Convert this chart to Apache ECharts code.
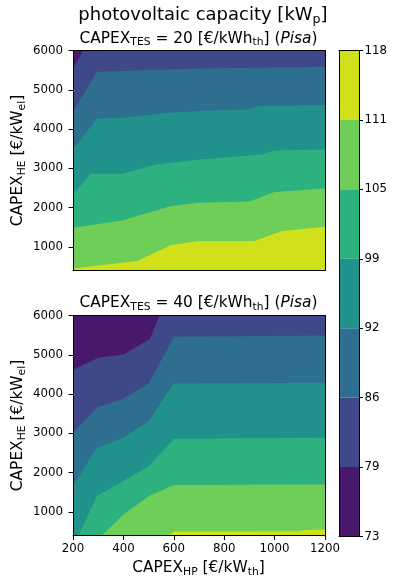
<!DOCTYPE html>
<html>
<head>
<meta charset="utf-8">
<script src="https://cdn.jsdelivr.net/npm/echarts@6/dist/echarts.min.js"></script>
<style>
  html, body { margin: 0; padding: 0; background: #fff; }
  #chart { width: 395px; height: 582px; }
</style>
</head>
<body>
<div id="chart"></div>
<script>
const FONT = 'DejaVu Sans';

// Axis ranges and ticks
const xRange = [200, 1200];          // CAPEX_HP [€/kW_th]
const yRange = [400, 6000];          // CAPEX_HE [€/kW_el]
const xTicks = [200, 400, 600, 800, 1000, 1200];
const yTicks = [1000, 2000, 3000, 4000, 5000, 6000];

// Colour levels of the PV capacity [kWp]
const levelLabels = ['73', '79', '86', '92', '99', '105', '111', '118'];
const bandColors = ['#48196b', '#3f4889', '#2e6e8e', '#21918c', '#2db17e', '#6ece58', '#d0e11c'];

// Iso-lines (CAPEX_HP, CAPEX_HE) between bands, CAPEX_TES = 20 €/kWh_th
const tes20_79  = [[200, 5540], [240, 6000]];
const tes20_86  = [[200, 4440], [295, 5458], [700, 5540], [1200, 5585]];
const tes20_92  = [[200, 3480], [295, 4262], [400, 4290], [560, 4400], [700, 4457], [900, 4500], [930, 4585], [1200, 4610]];
const tes20_99  = [[200, 2335], [270, 2862], [395, 2862], [530, 3100], [700, 3225], [950, 3350], [1000, 3455], [1200, 3480]];
const tes20_105 = [[200, 1488], [395, 1675], [590, 2040], [700, 2125], [900, 2155], [1000, 2400], [1200, 2490]];
const tes20_111 = [[200, 450], [455, 640], [590, 1050], [700, 1150], [920, 1150], [1030, 1405], [1200, 1513]];

// Iso-lines between bands, CAPEX_TES = 40 €/kWh_th
const tes40_79  = [[200, 4610], [300, 4925], [400, 5010], [505, 5405], [543, 6000]];
const tes40_86  = [[200, 3015], [300, 3675], [400, 3880], [500, 4270], [600, 5460], [1200, 5490]];
const tes40_92  = [[200, 1658], [295, 2635], [400, 2890], [500, 3310], [600, 4270], [1200, 4290]];
const tes40_99  = [[222, 400], [295, 1405], [400, 1785], [500, 2165], [600, 2862], [1200, 2887]];
const tes40_105 = [[315, 400], [400, 935], [465, 1235], [505, 1420], [600, 1685], [1200, 1700]];
const tes40_111 = [[580, 400], [600, 495], [1100, 510], [1120, 540], [1200, 555]];

const tes20Lines = [tes20_79, tes20_86, tes20_92, tes20_99, tes20_105, tes20_111];
const tes40Lines = [tes40_79, tes40_86, tes40_92, tes40_99, tes40_105, tes40_111];

// Region of the plane lying below/right of an iso-line (higher PV capacity)
function regionBelow(line) {
  const pts = line.slice();
  const last = pts[pts.length - 1];
  if (last[1] >= yRange[1] && last[0] < xRange[1]) pts.push([xRange[1], yRange[1]]);
  pts.push([xRange[1], yRange[0]]);
  pts.push([xRange[0], yRange[0]]);
  return pts;
}

function contourSeries(lines, axisIdx) {
  return {
    type: 'custom',
    coordinateSystem: 'cartesian2d',
    xAxisIndex: axisIdx,
    yAxisIndex: axisIdx,
    clip: true,
    silent: true,
    data: bandColors.map((c, i) => [xRange[0], yRange[0], i]),
    renderItem: function (params, api) {
      const i = params.dataIndex;
      const pts = i === 0
        ? [[xRange[0], yRange[0]], [xRange[0], yRange[1]], [xRange[1], yRange[1]], [xRange[1], yRange[0]]]
        : regionBelow(lines[i - 1]);
      return {
        type: 'polygon',
        shape: { points: pts.map(p => api.coord(p)) },
        style: { fill: bandColors[i], stroke: null }
      };
    }
  };
}

const tickLabelStyle = { fontFamily: FONT, fontSize: 11.8, color: '#000', formatter: v => String(v) };
const lineStyle = { color: '#000', width: 1 };

function frameAxis(gridIndex, position, extra) {
  return Object.assign({
    gridIndex, position, type: 'value', z: 10,
    axisLine: { show: true, onZero: false, lineStyle },
    axisTick: { show: false }, axisLabel: { show: false }, splitLine: { show: false }
  }, extra || {});
}

function hpAxis(gridIndex, withLabels) {
  return frameAxis(gridIndex, 'bottom', {
    min: xRange[0], max: xRange[1], interval: 200,
    axisTick: { show: withLabels, length: 4.5, lineStyle, customValues: xTicks },
    axisLabel: Object.assign({ show: withLabels, margin: 7, customValues: xTicks }, tickLabelStyle)
  });
}

function heAxis(gridIndex) {
  return frameAxis(gridIndex, 'left', {
    min: yRange[0], max: yRange[1],
    axisTick: { show: true, length: 4.5, lineStyle, customValues: yTicks },
    axisLabel: Object.assign({ show: true, margin: 10, customValues: yTicks }, tickLabelStyle)
  });
}

function richText(size) {
  return {
    m: { fontFamily: FONT, fontSize: size, color: '#000', lineHeight: size * 1.2 },
    i: { fontFamily: FONT, fontSize: size, color: '#000', fontStyle: 'italic', lineHeight: size * 1.2 },
    s: { fontFamily: FONT, fontSize: size * 0.7, color: '#000', lineHeight: size * 0.55, verticalAlign: 'bottom' }
  };
}

function label(text, x, y, size, rotation) {
  return {
    type: 'text', x, y, rotation: rotation || 0, z: 100,
    style: {
      text, rich: richText(size),
      align: 'center', verticalAlign: 'middle',
      textAlign: 'center', textVerticalAlign: 'middle'
    }
  };
}

const chart = echarts.init(document.getElementById('chart'), null, { renderer: 'canvas' });

chart.setOption({
  animation: false,
  backgroundColor: '#fff',
  grid: [
    { left: 73, top: 50.5, width: 252, height: 220 },
    { left: 73, top: 315.5, width: 252, height: 220 },
    { left: 339, top: 50.5, width: 20, height: 486 }
  ],
  xAxis: [
    hpAxis(0, false),
    frameAxis(0, 'top', { min: xRange[0], max: xRange[1] }),
    hpAxis(1, true),
    frameAxis(1, 'top', { min: xRange[0], max: xRange[1] }),
    frameAxis(2, 'bottom', { min: 0, max: 1 }),
    frameAxis(2, 'top', { min: 0, max: 1 })
  ],
  yAxis: [
    heAxis(0),
    frameAxis(0, 'right', { min: yRange[0], max: yRange[1] }),
    heAxis(1),
    frameAxis(1, 'right', { min: yRange[0], max: yRange[1] }),
    frameAxis(2, 'right', {
      min: 0, max: levelLabels.length - 1, interval: 1,
      axisTick: { show: true, length: 4, lineStyle },
      axisLabel: Object.assign({}, tickLabelStyle, { show: true, margin: 5.5, formatter: v => levelLabels[v] })
    }),
    frameAxis(2, 'left', { min: 0, max: levelLabels.length - 1 })
  ],
  series: [
    contourSeries(tes20Lines, 0),
    contourSeries(tes40Lines, 2),
    {
      type: 'custom',
      coordinateSystem: 'cartesian2d',
      xAxisIndex: 4, yAxisIndex: 4,
      silent: true,
      data: bandColors.map((c, i) => [0, i]),
      renderItem: function (params, api) {
        const i = params.dataIndex;
        const p0 = api.coord([0, i]);
        const p1 = api.coord([1, i + 1]);
        return {
          type: 'rect',
          shape: { x: p0[0], y: p1[1], width: p1[0] - p0[0], height: p0[1] - p1[1] },
          style: { fill: bandColors[i], stroke: null }
        };
      }
    }
  ],
  graphic: [
    label('{m|photovoltaic capacity [kW}{s|p}{m|]}', 203, 15, 18),
    label('{m|CAPEX}{s|TES}{m| = 20 [€/kWh}{s|th}{m|] (}{i|Pisa}{m|)}', 198.5, 38.5, 15.4),
    label('{m|CAPEX}{s|TES}{m| = 40 [€/kWh}{s|th}{m|] (}{i|Pisa}{m|)}', 198.5, 303, 15.4),
    label('{m|CAPEX}{s|HE}{m| [€/kW}{s|el}{m|]}', 18, 160.5, 15.4, Math.PI / 2),
    label('{m|CAPEX}{s|HE}{m| [€/kW}{s|el}{m|]}', 18, 425.5, 15.4, Math.PI / 2),
    label('{m|CAPEX}{s|HP}{m| [€/kW}{s|th}{m|]}', 198.5, 568, 15.4)
  ]
});
</script>
</body>
</html>
